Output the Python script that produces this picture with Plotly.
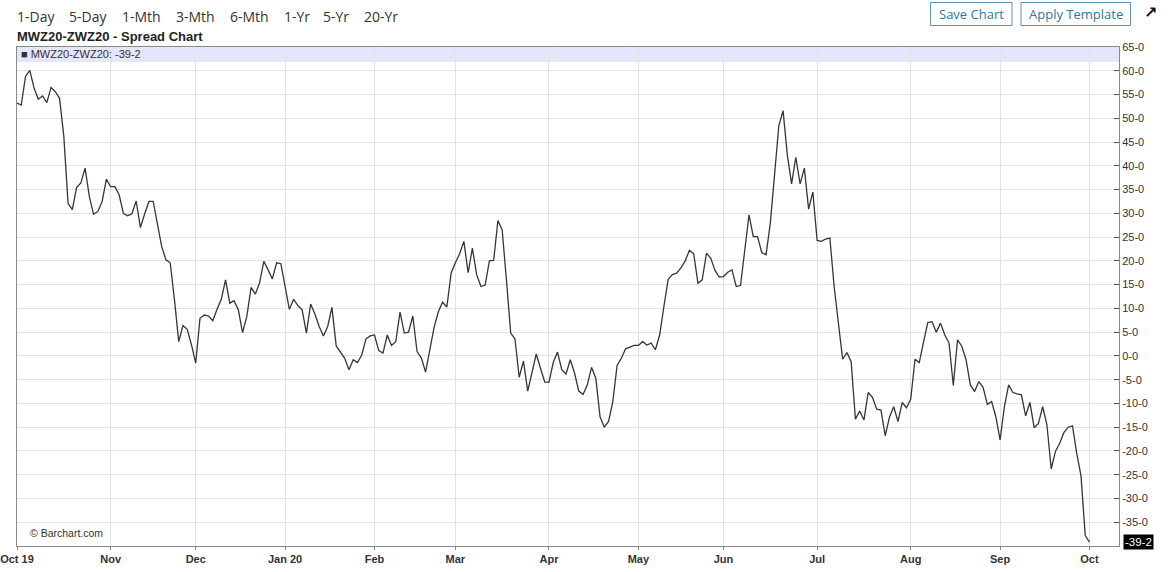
import pandas as pd
import plotly.graph_objects as go

# ---- data ----
spread = [
    53.2, 52.8, 58.8, 60.1, 56.4, 54.0, 54.7, 53.3, 56.5, 55.6, 54.2, 46.2, 32.1, 30.8, 35.4, 36.4,
    39.5, 33.5, 29.8, 30.4, 32.5, 37.2, 35.6, 35.6, 33.9, 30.0, 29.5, 29.9, 32.6, 27.0, 29.9, 32.5,
    32.5, 27.9, 23.0, 20.2, 19.6, 11.8, 3.0, 6.4, 5.6, 2.3, -1.5, 7.9, 8.6, 8.4, 7.4, 9.8,
    11.9, 16.0, 11.1, 11.6, 9.7, 4.9, 8.3, 14.4, 13.0, 15.4, 19.9, 18.1, 16.2, 19.6, 19.4, 14.6,
    9.8, 11.9, 10.6, 9.7, 4.8, 10.9, 8.8, 6.2, 4.2, 6.2, 10.2, 2.1, 0.9, -0.5, -2.9, -0.8,
    -1.4, 0.2, 3.6, 4.2, 4.4, 1.1, 0.6, 4.4, 2.2, 3.0, 9.2, 4.8, 5.0, 8.4, 0.9, -0.4,
    -3.4, 1.3, 6.0, 9.3, 11.3, 10.3, 17.4, 19.6, 21.5, 24.1, 17.5, 22.7, 17.1, 14.6, 14.9, 20.0,
    20.1, 28.5, 26.5, 16.0, 4.8, 3.6, -4.5, -1.1, -7.4, -3.5, 0.4, -2.6, -5.5, -5.5, -1.4, 0.8,
    -2.9, -3.8, -0.8, -3.6, -7.4, -8.1, -6.1, -2.4, -4.7, -12.8, -15.0, -13.8, -9.6, -2.0, -0.5, 1.5,
    1.8, 2.2, 2.2, 3.0, 2.3, 2.7, 1.3, 4.4, 10.4, 16.1, 17.1, 17.4, 18.5, 20.0, 22.2, 21.5,
    15.3, 16.0, 21.6, 20.6, 18.0, 16.6, 16.7, 17.6, 18.1, 14.6, 14.8, 22.3, 29.7, 25.1, 25.1, 21.7,
    21.3, 27.9, 38.1, 48.4, 51.6, 42.3, 36.2, 41.8, 36.2, 39.5, 30.9, 34.5, 24.3, 24.1, 24.6, 24.8,
    14.6, 7.0, -0.7, 0.7, -1.2, -13.3, -11.6, -13.5, -7.7, -8.7, -11.2, -11.4, -16.8, -12.9, -10.7, -13.8,
    -9.8, -10.9, -9.1, -0.7, -1.4, 2.9, 7.0, 7.2, 5.0, 6.9, 4.4, 2.7, -6.2, 3.4, 2.0, -0.8,
    -6.1, -7.5, -5.4, -6.6, -10.2, -9.6, -12.8, -17.7, -10.7, -6.1, -7.7, -8.0, -8.2, -12.6, -9.8, -15.1,
    -14.2, -10.7, -14.5, -23.8, -20.1, -18.4, -16.1, -15.0, -14.7, -20.5, -25.2, -37.8, -39.2,
]
market_holidays = ["2019-11-28", "2019-12-25", "2020-01-01", "2020-01-20", "2020-02-17",
                   "2020-04-10", "2020-05-25", "2020-07-03", "2020-09-07"]
dates = pd.bdate_range("2019-10-02", "2020-10-01", freq="C",
                       holidays=market_holidays).strftime("%Y-%m-%d").tolist()
month_labels = ["Oct 19", "Nov", "Dec", "Jan 20", "Feb", "Mar", "Apr", "May",
                "Jun", "Jul", "Aug", "Sep", "Oct"]
y_ticks = list(range(-35, 70, 5))
y_tick_text = [f"{v}-0" for v in y_ticks]
last_label = "-39-2"
series_name = "MWZ20-ZWZ20"
periods = ["1-Day", "5-Day", "1-Mth", "3-Mth", "6-Mth", "1-Yr", "5-Yr", "20-Yr"]

n = min(len(dates), len(spread))
dates = dates[:n]
spread = spread[:n]

# first trading day of each month -> tick
month_ticks = [d for i, d in enumerate(dates) if i == 0 or d[:7] != dates[i - 1][:7]]

fig = go.Figure()
fig.add_trace(go.Scatter(x=dates, y=spread, mode="lines",
                         line=dict(color="#363636", width=1.3),
                         name=series_name, showlegend=False,
                         hovertemplate="%{x}: %{y}<extra></extra>"))

# plot area geometry (pixels)
L, R, T, B = 17.3, 1119.0, 47.0, 546.0
W, H = R - L, B - T
px = lambda x: (x - L) / W
py = lambda y: (B - y) / H

shapes = [
    # legend band
    dict(type="rect", xref="paper", yref="paper", x0=0, x1=1, y0=py(62), y1=1,
         fillcolor="#e6e6fa", line=dict(width=0), layer="below"),
    # buttons
    dict(type="rect", xref="paper", yref="paper", x0=px(930.5), x1=px(1012),
         y0=py(25.5), y1=py(2.5), line=dict(color="#5d93b5", width=1), fillcolor="white"),
    dict(type="rect", xref="paper", yref="paper", x0=px(1021), x1=px(1130.5),
         y0=py(25.5), y1=py(2.5), line=dict(color="#5d93b5", width=1), fillcolor="white"),
]

annotations = []
period_x = [15.5, 67, 120, 174, 228, 282, 321, 362.5]
for lab, xx in zip(periods, period_x):
    annotations.append(dict(text=lab, xref="paper", yref="paper", x=px(xx), y=py(16),
                            xanchor="left", yanchor="middle", showarrow=False,
                            font=dict(family="Open Sans", size=14, color="#333333")))
annotations += [
    dict(text=f"<b>{series_name} - Spread Chart</b>", xref="paper", yref="paper",
         x=px(15.5), y=py(36), xanchor="left", yanchor="middle", showarrow=False,
         font=dict(family="Liberation Sans, Arial", size=13, color="#222222")),
    dict(text=f"■ {series_name}: {last_label}", xref="paper", yref="paper",
         x=px(19.5), y=py(54.5), xanchor="left", yanchor="middle", showarrow=False,
         font=dict(family="Liberation Sans, Arial", size=11, color="#333333")),
    dict(text="Save Chart", xref="paper", yref="paper", x=px(971.25), y=py(14),
         xanchor="center", yanchor="middle", showarrow=False,
         font=dict(family="Open Sans", size=13, color="#2f77a6")),
    dict(text="Apply Template", xref="paper", yref="paper", x=px(1075.75), y=py(14),
         xanchor="center", yanchor="middle", showarrow=False,
         font=dict(family="Open Sans", size=13, color="#2f77a6")),
    dict(text="<b>↗</b>", xref="paper", yref="paper", x=px(1150.5), y=py(13),
         xanchor="center", yanchor="middle", showarrow=False,
         font=dict(family="DejaVu Sans", size=16, color="#111111")),
    dict(text="© Barchart.com", xref="paper", yref="paper", x=px(28), y=py(533),
         xanchor="left", yanchor="middle", showarrow=False,
         font=dict(family="Liberation Sans, Arial", size=10.5, color="#333333")),
    dict(text=last_label, xref="paper", yref="y", x=1, y=spread[-1], xshift=4,
         xanchor="left", yanchor="middle", showarrow=False, bgcolor="#000000",
         borderpad=1, font=dict(family="Liberation Sans, Arial", size=11.5, color="#ffffff")),
]

x_last_range = (R - L) / ((1089.5 - L) / (n - 1))

fig.update_layout(
    width=1168, height=572,
    margin=dict(l=L, r=1168 - R, t=T, b=572 - B, autoexpand=False),
    paper_bgcolor="white", plot_bgcolor="white",
    shapes=shapes, annotations=annotations,
    showlegend=False,
    xaxis=dict(type="category", range=[0, x_last_range], automargin=False,
               tickmode="array", tickvals=month_ticks, ticktext=month_labels,
               showgrid=True, gridcolor="#e3e3e3", gridwidth=1,
               showline=True, linecolor="#8a8a8a", linewidth=1, mirror=True,
               ticks="outside", ticklen=3, tickcolor="#8a8a8a",
               tickfont=dict(family="Liberation Sans, Arial", size=11, color="#333333",
                             weight="bold"),
               fixedrange=True),
    yaxis=dict(side="right", range=[-40, 65], tickmode="array", automargin=False,
               tickvals=y_ticks, ticktext=y_tick_text,
               showgrid=True, gridcolor="#e3e3e3", gridwidth=1, zeroline=False,
               showline=True, linecolor="#8a8a8a", linewidth=1, mirror=True,
               ticks="inside", ticklen=5, tickcolor="#555555",
               tickfont=dict(family="Liberation Sans, Arial", size=11, color="#333333"),
               fixedrange=True),
)

fig.write_html("out.html", config={"displayModeBar": False},
               post_script="document.body.style.margin='0';document.body.style.overflow='hidden';")
